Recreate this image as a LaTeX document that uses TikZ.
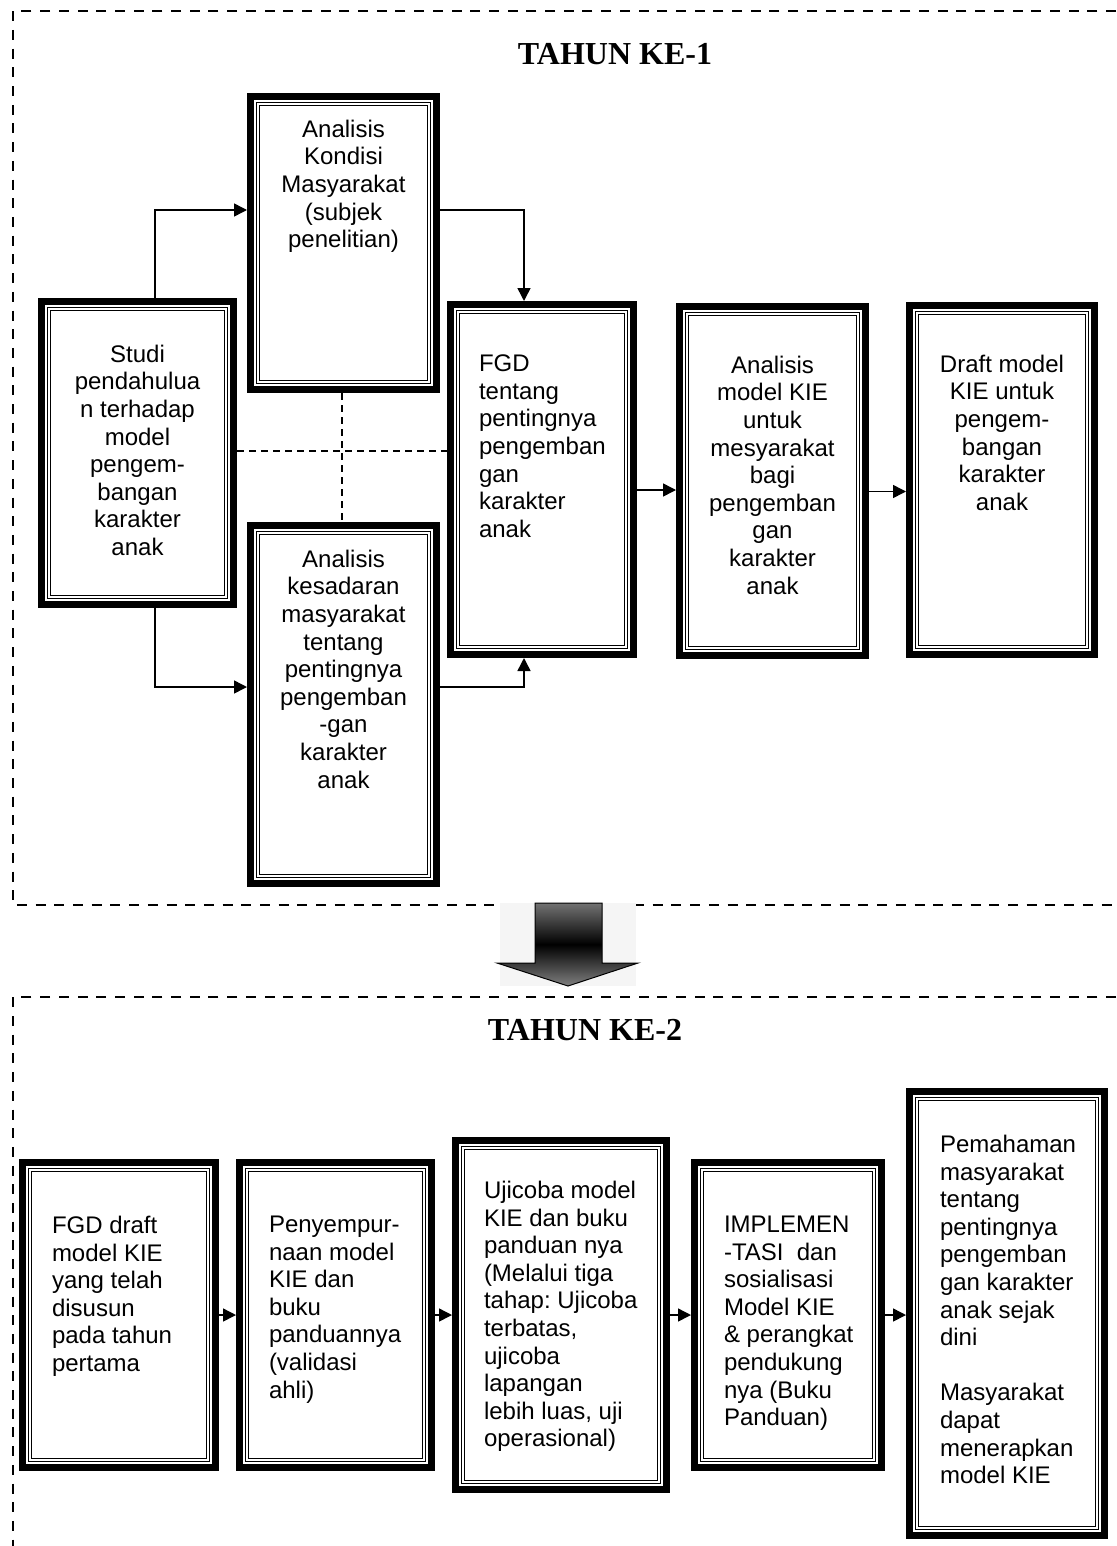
\documentclass[tikz,border=0pt]{standalone}
\usepackage{fontspec}
\setmainfont{Liberation Sans}
\newfontfamily\titlefont{Liberation Serif}
\usetikzlibrary{arrows.meta,calc}
\frenchspacing
\tikzset{
  kbox/.style={rectangle, inner sep=0pt, outer sep=0pt, fill=white,
    path picture={
      \fill[black] (path picture bounding box.south west) rectangle (path picture bounding box.north east);
      \fill[white] ([shift={(7pt,7pt)}]path picture bounding box.south west) rectangle ([shift={(-7pt,-7pt)}]path picture bounding box.north east);
      \draw[line width=1pt] ([shift={(9.5pt,9.5pt)}]path picture bounding box.south west) rectangle ([shift={(-9.5pt,-9.5pt)}]path picture bounding box.north east);
      \draw[line width=1pt] ([shift={(12.5pt,12.5pt)}]path picture bounding box.south west) rectangle ([shift={(-12.5pt,-12.5pt)}]path picture bounding box.north east);
    }},
  txt/.style={inner sep=0pt, outer sep=0pt, font=\fontsize{24}{27.6}\selectfont},
  arr/.style={line width=1.5pt, -{Triangle[length=13pt,width=13pt]}},
  frame/.style={line width=2pt, dash pattern=on 10pt off 8.7pt},
  guide/.style={line width=1.3pt, dash pattern=on 7pt off 5pt},
  title/.style={inner sep=0pt, font=\titlefont\bfseries\fontsize{32}{36}\selectfont}
}
\begin{document}
\begin{tikzpicture}[x=1pt,y=-1pt]
\useasboundingbox (0,0) rectangle (1116,1546);
\fill[white] (0,0) rectangle (1116,1546);

% frames
\draw[frame] (1116,11) -- (13,11) -- (13,905) -- (1116,905);
\draw[frame] (1116,997) -- (13,997) -- (13,1560);

\node[title, anchor=base] (t1) at (615,65) {TAHUN KE-1};
\node[title, anchor=base] (t2) at (585,1040) {TAHUN KE-2};

% big arrow
\fill[black!4] (500,903) rectangle (636,986);
\path[draw=black, line width=1pt, top color=black!55, bottom color=black!50, middle color=black]
  (535,903) -- (602,903) -- (602,963) -- (638,963) -- (568,986) -- (497,963) -- (535,963) -- cycle;

% year 1 boxes
\node[kbox, minimum width=199pt, minimum height=310pt] (s) at (137.5,453) {};
\node[kbox, minimum width=193pt, minimum height=300pt] (a) at (343.5,243) {};
\node[kbox, minimum width=193pt, minimum height=365pt] (k) at (343.5,704.5) {};
\node[kbox, minimum width=190pt, minimum height=357pt] (f) at (542,479.5) {};
\node[kbox, minimum width=193pt, minimum height=356pt] (m) at (772.5,481) {};
\node[kbox, minimum width=192pt, minimum height=356pt] (d) at (1002,480) {};

\node[txt, align=center, anchor=north] (sT) at (137.5,345) {Studi\\pendahulua\\n terhadap\\model\\pengem-\\bangan\\karakter\\anak};
\node[txt, align=center, anchor=north] (aT) at (343.5,120) {Analisis\\Kondisi\\Masyarakat\\(subjek\\penelitian)};
\node[txt, align=center, anchor=north] (kT) at (343.5,550) {Analisis\\kesadaran\\masyarakat\\tentang\\pentingnya\\pengemban\\-gan\\karakter\\anak};
\node[txt, align=left, anchor=north west] (fT) at (479,355) {FGD\\tentang\\pentingnya\\pengemban\\gan\\karakter\\anak};
\node[txt, align=center, anchor=north] (mT) at (772.5,356) {Analisis\\model KIE\\untuk\\mesyarakat\\bagi\\pengemban\\gan\\karakter\\anak};
\node[txt, align=center, anchor=north] (dT) at (1002,355) {Draft model\\KIE untuk\\pengem-\\bangan\\karakter\\anak};

% year 1 connectors
\draw[guide] (s.east |- 0,451) -- (f.west |- 0,451);
\draw[guide] (a.south -| 342,0) -- (k.north -| 342,0);
\draw[arr] ([xshift=17.5pt]s.north) |- ([yshift=33pt]a.west);
\draw[arr] ([yshift=33pt]a.east) -| ([xshift=-18pt]f.north);
\draw[arr] ([xshift=17.5pt]s.south) |- ([yshift=17.5pt]k.west);
\draw[arr] ([yshift=17.5pt]k.east) -| ([xshift=-18pt]f.south);
\draw[arr] ([yshift=-10.5pt]f.east) -- ([yshift=-10.5pt]f.east -| m.west);
\draw[arr] ([yshift=-10.5pt]m.east) -- ([yshift=-10.5pt]m.east -| d.west);

% year 2 boxes
\node[kbox, minimum width=200pt, minimum height=312pt] (b1) at (119,1315) {};
\node[kbox, minimum width=199pt, minimum height=312pt] (b2) at (335.5,1315) {};
\node[kbox, minimum width=218pt, minimum height=356pt] (b3) at (561,1315) {};
\node[kbox, minimum width=194pt, minimum height=312pt] (b4) at (788,1315) {};
\node[kbox, minimum width=202pt, minimum height=451pt] (b5) at (1007,1313.5) {};

\node[txt, align=left, anchor=north west] (b1T) at (52,1216) {FGD draft\\model KIE\\yang telah\\disusun\\pada tahun\\pertama};
\node[txt, align=left, anchor=north west] (b2T) at (269,1216) {Penyempur-\\naan model\\KIE dan\\buku\\panduannya\\(validasi\\ahli)};
\node[txt, align=left, anchor=north west] (b3T) at (484,1181) {Ujicoba model\\KIE dan buku\\panduan nya\\(Melalui tiga\\tahap: Ujicoba\\terbatas,\\ujicoba\\lapangan\\lebih luas, uji\\operasional)};
\node[txt, align=left, anchor=north west] (b4T) at (724,1216) {IMPLEMEN\\-TASI\ \ dan\\sosialisasi\\Model KIE\\\& perangkat\\pendukung\\nya (Buku\\Panduan)};
\node[txt, align=left, anchor=north west] (b5T) at (940,1135) {Pemahaman\\masyarakat\\tentang\\pentingnya\\pengemban\\gan karakter\\anak sejak\\dini\\[27.6pt]Masyarakat\\dapat\\menerapkan\\model KIE};

% year 2 connectors
\draw[arr] (b1.east) -- (b2.west);
\draw[arr] (b2.east) -- (b3.west);
\draw[arr] (b3.east) -- (b4.west);
\draw[arr] (b4.east) -- (b4.east -| b5.west);
\end{tikzpicture}
\end{document}
